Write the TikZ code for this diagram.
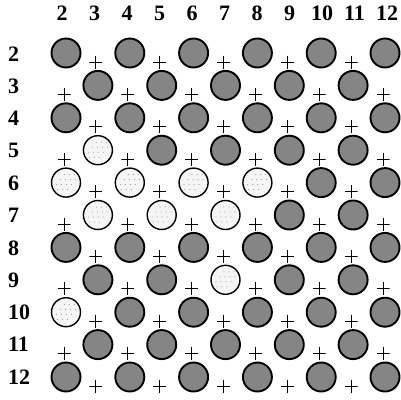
\documentclass[tikz,border=0pt]{standalone}
\usepackage{fontspec}
\setmainfont{Liberation Serif}
\newcommand\markLight[1]{\expandafter\def\csname lt#1\endcsname{}}
\markLight{5-3}\markLight{6-2}\markLight{6-4}\markLight{6-6}\markLight{6-8}
\markLight{7-3}\markLight{7-5}\markLight{7-7}\markLight{9-7}\markLight{10-2}
\begin{document}
\begin{tikzpicture}[x=1pt,y=-1pt,
  lbl/.style={font=\bfseries\fontsize{22}{22}\selectfont, inner sep=0pt},
  darkc/.style={circle, draw=black, line width=1.9pt, fill=black!48, minimum size=29pt, inner sep=0pt},
  lightc/.style={circle, draw=black, line width=1.4pt, fill=black!4, minimum size=29pt, inner sep=0pt,
    path picture={\foreach \dx in {-8,-3,2,7}{\foreach \dy in {-7,-2,3,8}{\fill[black!60] ([xshift=\dx pt+0.8*\dy pt,yshift=\dy pt]path picture bounding box.center) circle (0.45pt);}}}},
  plusmark/.style={minimum size=13pt, inner sep=0pt,
    path picture={\draw[line width=0.9pt] (path picture bounding box.north) -- (path picture bounding box.south) (path picture bounding box.west) -- (path picture bounding box.east);}}
]
\useasboundingbox (0,0) rectangle (401,399);
% column headers
\foreach \c in {2,...,12}{
  \node[lbl] (h\c) at ({62+(\c-2)*32.5},13) {\c};
}
% row labels
\foreach \r in {2,...,12}{
  \node[lbl, anchor=west] (r\r) at (8,{54+(\r-2)*32.3}) {\r};
}
% grid
\foreach \r in {2,...,12}{
  \foreach \c in {2,...,12}{
    \pgfmathtruncatemacro\s{mod(\r+\c,2)}
    \ifnum\s=0
      \ifcsname lt\r-\c\endcsname\def\sty{lightc}\else\def\sty{darkc}\fi
      \node[\sty] (c\r-\c) at ({66+(\c-2)*31.9},{53+(\r-2)*32.4}) {};
    \else
      \node[plusmark] (p\r-\c) at ({64+(\c-2)*31.9},{62+(\r-2)*32.4}) {};
    \fi
  }
}
\end{tikzpicture}
\end{document}
